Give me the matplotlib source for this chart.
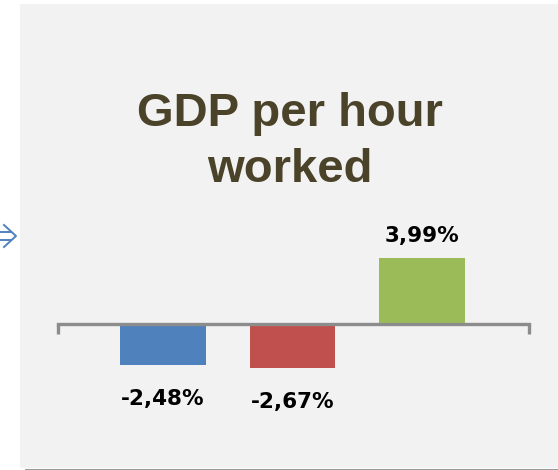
import matplotlib.pyplot as plt
from matplotlib.patches import Rectangle
from matplotlib.lines import Line2D

# data
categorias = ['A', 'B', 'C']
valores = [-2.48, -2.67, 3.99]
etiquetas = ['-2,48%', '-2,67%', '3,99%']
colores = ['#4f81bd', '#c0504d', '#9bbb59']

W, H = 558, 470
fig = plt.figure(figsize=(W / 100, H / 100), dpi=100)
fig.patch.set_facecolor('white')


def px(x, y):
    # pixel (desde arriba-izquierda) -> coordenadas de figura
    return x / W, 1 - y / H


# panel gris de fondo
x0, y0 = px(20, 468)
fig.patches.append(Rectangle((x0, y0), 1 - x0, (468 - 4) / H,
                             transform=fig.transFigure, facecolor='#f2f2f2',
                             edgecolor='none', zorder=-1))
fig.add_artist(Line2D([26 / W, 1], [1 - 469.5 / H] * 2, transform=fig.transFigure,
                      color='#9a9a9a', lw=1.5))

# flecha a la izquierda
col_flecha = '#4f81bd'
for yy in (232, 240):
    fig.add_artist(Line2D([0, 11 / W], [1 - yy / H] * 2, transform=fig.transFigure,
                          color=col_flecha, lw=1.4))
fig.add_artist(Line2D([4 / W, 16 / W, 4 / W], [1 - 225 / H, 1 - 236 / H, 1 - 247 / H],
                      transform=fig.transFigure, color=col_flecha, lw=1.4))

# ejes: y=0 en pixel 324, 16.5 px por unidad
escala = 16.5
y_cero = 324
ax_top, ax_bot = 200, 440
ax = fig.add_axes([58 / W, 1 - ax_bot / H, (529 - 58) / W, (ax_bot - ax_top) / H])
ax.set_zorder(2)
ax.set_facecolor('none')
ax.set_ylim(-(ax_bot - y_cero) / escala, (y_cero - ax_top) / escala)
xmin, xmax = -105 / 129.5, (529 - 163) / 129.5
ax.set_xlim(xmin, xmax)

x = range(len(categorias))
ax.bar(x, valores, width=0.664, color=colores, zorder=2)

for i, v in enumerate(valores):
    if v >= 0:
        ax.annotate(etiquetas[i], (i, v), xytext=(0, 11.5), textcoords='offset points',
                    ha='center', va='baseline', fontsize=15.5, fontweight='bold',
                    family='DejaVu Sans', color='black')
    else:
        ax.annotate(etiquetas[i], (i, v), xytext=(0, -17.5), textcoords='offset points',
                    ha='center', va='top', fontsize=15.5, fontweight='bold',
                    family='DejaVu Sans', color='black')

for s in ['top', 'right', 'left']:
    ax.spines[s].set_visible(False)
ax.spines['bottom'].set_position(('data', 0))
ax.spines['bottom'].set_color('#8c8c8c')
ax.spines['bottom'].set_linewidth(2.4)
ax.spines['bottom'].set_zorder(3)
ax.set_yticks([])
ax.set_xticks([xmin, xmax])
ax.set_xticklabels(['', ''])
ax.tick_params(axis='x', direction='out', length=7.5, width=2.4, color='#8c8c8c')

# titulo
col_titulo = '#4b4329'
for texto, yb in (('GDP per hour', 126), ('worked', 182)):
    fx, fy = px(290, yb)
    fig.text(fx, fy, texto, ha='center', va='baseline', fontsize=34,
             fontweight='bold', family='Liberation Sans', color=col_titulo)

fig.savefig('out.png', dpi=100)
